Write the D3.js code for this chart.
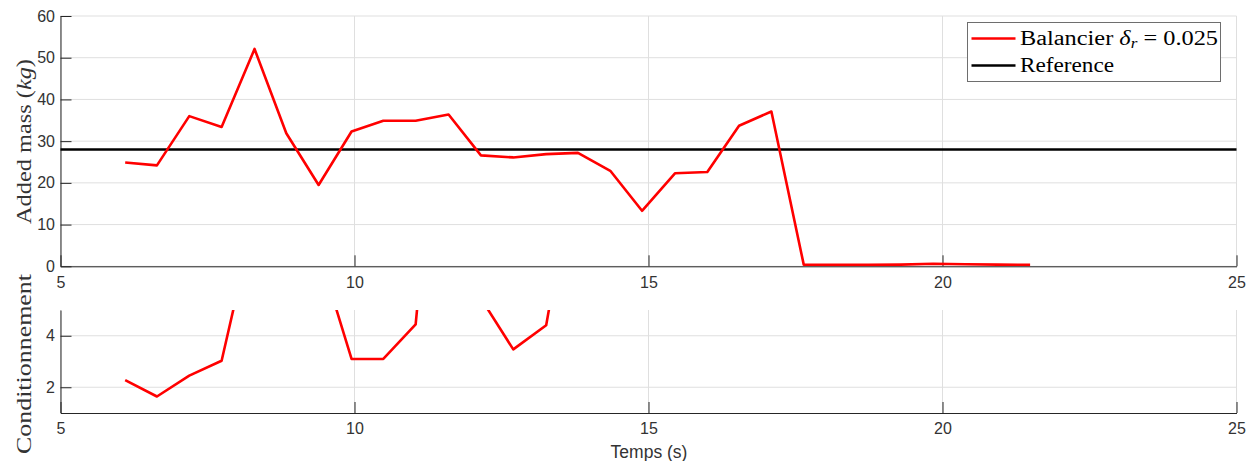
<!DOCTYPE html>
<html>
<head>
<meta charset="utf-8">
<script src="https://cdn.jsdelivr.net/npm/d3@7"></script>
<style>
  html, body { margin: 0; padding: 0; background: #fff; }
  svg { display: block; }
</style>
</head>
<body>
<svg id="chart" width="1253" height="461"></svg>
<script>
// ---- data ----
const time = [6.10, 6.64, 7.19, 7.74, 8.30, 8.84, 9.39, 9.95, 10.49, 11.04, 11.60, 12.15, 12.70, 13.26, 13.80, 14.35, 14.89, 15.45, 16.00, 16.54, 17.09, 17.64, 18.19, 18.74, 19.29, 19.84, 20.39, 20.94, 21.49];
const addedMass = [24.9, 24.2, 36.0, 33.4, 52.1, 31.9, 19.5, 32.3, 34.9, 34.9, 36.4, 26.6, 26.1, 26.9, 27.2, 22.9, 13.3, 22.3, 22.6, 33.7, 37.1, 0.4, 0.35, 0.35, 0.4, 0.6, 0.5, 0.4, 0.35];
const referenceMass = 28;
const condTime = [6.10, 6.64, 7.19, 7.74, 8.30, 8.84, 9.39, 9.95, 10.49, 11.04, 11.60, 12.15, 12.70, 13.26, 13.80];
const conditioning = [2.28, 1.64, 2.45, 3.03, 8.6, 12.0, 7.27, 3.10, 3.10, 4.44, 18.0, 5.45, 3.47, 4.41, 11.4];
const xTicks = [5, 10, 15, 20, 25];
const yTicksTop = [0, 10, 20, 30, 40, 50, 60];
const yTicksBottom = [2, 4];
const legendLabels = ["Balancier", "Reference"];

// ---- layout ----
const svg = d3.select("#chart");
const axisColor = "#262626";
const gridColor = "#dfdfdf";
const tickFont = "'Liberation Sans', Arial, Helvetica, sans-serif";
const serifFont = "'Liberation Serif', 'Times New Roman', serif";

const x = d3.scaleLinear().domain([5, 25]).range([60.5, 1236.5]);
const yTop = d3.scaleLinear().domain([0, 60]).range([266.3, 16]);
const yBot = d3.scaleLinear().domain([1, 5]).range([413, 310]);

svg.append("rect").attr("width", 1253).attr("height", 461).attr("fill", "#fff");

function drawPanel(yScale, yTicks, xPad, name) {
  const [y0, y1] = yScale.range();
  const g = svg.append("g");
  // grid
  g.selectAll(".vg").data(xTicks).join("line")
    .attr("x1", d => x(d)).attr("x2", d => x(d))
    .attr("y1", y0).attr("y2", y1)
    .attr("stroke", gridColor).attr("stroke-width", 1);
  g.selectAll(".hg").data(yTicks).join("line")
    .attr("x1", x.range()[0]).attr("x2", x.range()[1])
    .attr("y1", d => yScale(d)).attr("y2", d => yScale(d))
    .attr("stroke", gridColor).attr("stroke-width", 1);

  const xa = svg.append("g").attr("transform", `translate(0,${y0})`)
    .call(d3.axisBottom(x).tickValues(xTicks).tickSizeInner(-11).tickSizeOuter(0).tickPadding(xPad).tickFormat(d3.format("d")));
  const ya = svg.append("g").attr("transform", `translate(${x.range()[0]},0)`)
    .call(d3.axisLeft(yScale).tickValues(yTicks).tickSizeInner(-11).tickSizeOuter(0).tickPadding(5.5).tickFormat(d3.format("d")));
  [xa, ya].forEach(a => {
    a.select(".domain").attr("stroke", axisColor).attr("stroke-width", 1);
    a.selectAll(".tick line").attr("stroke", axisColor).attr("stroke-width", 1);
    a.selectAll(".tick text").attr("fill", "#333").style("font-family", tickFont).style("font-size", "16px");
  });
  // clip
  svg.append("clipPath").attr("id", "clip-" + name).append("rect")
    .attr("x", x.range()[0]).attr("y", y1).attr("width", x.range()[1] - x.range()[0]).attr("height", y0 - y1);
}

drawPanel(yTop, yTicksTop, 10.5, "top");
drawPanel(yBot, yTicksBottom, 10, "bot");

// top lines
svg.append("line")
  .attr("x1", x(5)).attr("x2", x(25))
  .attr("y1", yTop(referenceMass)).attr("y2", yTop(referenceMass))
  .attr("stroke", "#000").attr("stroke-width", 2.7);

const lineTop = d3.line().x((d, i) => x(time[i])).y(d => yTop(d));
svg.append("path").datum(addedMass)
  .attr("d", lineTop).attr("fill", "none").attr("stroke", "#ff0000")
  .attr("stroke-width", 2.6).attr("stroke-linejoin", "round")
  .attr("clip-path", "url(#clip-top)");

const lineBot = d3.line().x((d, i) => x(condTime[i])).y(d => yBot(d));
svg.append("path").datum(conditioning)
  .attr("d", lineBot).attr("fill", "none").attr("stroke", "#ff0000")
  .attr("stroke-width", 2.6).attr("stroke-linejoin", "round")
  .attr("clip-path", "url(#clip-bot)");

// axis labels
const yl1 = svg.append("text")
  .attr("transform", "translate(31,141.5) rotate(-90)")
  .attr("text-anchor", "middle")
  .attr("fill", "#333")
  .style("font-family", serifFont).style("font-size", "22px");
yl1.append("tspan").text("Added mass (");
yl1.append("tspan").style("font-style", "italic").text("kg");
yl1.append("tspan").text(")");
yl1.attr("textLength", 165).attr("lengthAdjust", "spacingAndGlyphs");

svg.append("text")
  .attr("transform", "translate(31,364) rotate(-90)")
  .attr("text-anchor", "middle")
  .attr("fill", "#333")
  .attr("textLength", 180).attr("lengthAdjust", "spacingAndGlyphs")
  .style("font-family", serifFont).style("font-size", "22px")
  .text("Conditionnement");

svg.append("text")
  .attr("x", 649).attr("y", 458)
  .attr("text-anchor", "middle")
  .attr("fill", "#333")
  .style("font-family", tickFont).style("font-size", "17.5px")
  .text("Temps (s)");

// legend
const lg = svg.append("g");
lg.append("rect").attr("x", 967.5).attr("y", 22.5).attr("width", 253).attr("height", 59)
  .attr("fill", "#fff").attr("stroke", "#6e6e6e").attr("stroke-width", 1);
lg.append("line").attr("x1", 971.5).attr("x2", 1015.5).attr("y1", 38.5).attr("y2", 38.5)
  .attr("stroke", "#ff0000").attr("stroke-width", 2.6);
lg.append("line").attr("x1", 971.5).attr("x2", 1015.5).attr("y1", 65.5).attr("y2", 65.5)
  .attr("stroke", "#000").attr("stroke-width", 2.7);
const t1 = lg.append("text").attr("x", 1020).attr("y", 44.5)
  .attr("fill", "#000").style("font-family", serifFont).style("font-size", "20px");
t1.append("tspan").text(legendLabels[0] + " ");
t1.append("tspan").style("font-style", "italic").text("δ");
t1.append("tspan").style("font-style", "italic").style("font-size", "14px").attr("dy", 3).text("r");
t1.append("tspan").attr("dy", -3).text(" = 0.025");
t1.attr("textLength", 198).attr("lengthAdjust", "spacingAndGlyphs");
lg.append("text").attr("x", 1020).attr("y", 71.5)
  .attr("fill", "#000").attr("textLength", 94).attr("lengthAdjust", "spacingAndGlyphs")
  .style("font-family", serifFont).style("font-size", "20px")
  .text(legendLabels[1]);
</script>
</body>
</html>
